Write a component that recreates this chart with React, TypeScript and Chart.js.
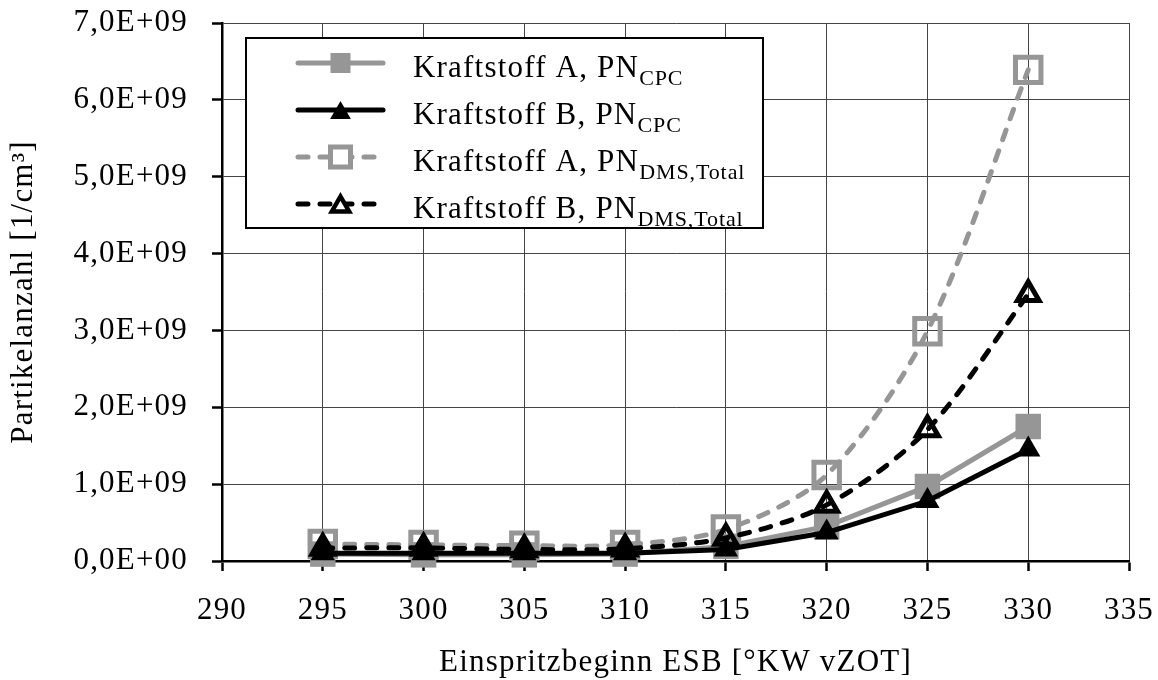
import React, { useEffect, useRef } from 'react';
import { Chart, registerables } from 'chart.js';

Chart.register(...registerables);

// ---- data ----
const injectionStart = [295, 300, 305, 310, 315, 320, 325, 330];
const fuelA_CPC = [0.09e9, 0.08e9, 0.08e9, 0.09e9, 0.19e9, 0.45e9, 0.97e9, 1.75e9];
const fuelB_CPC = [0.10e9, 0.10e9, 0.10e9, 0.10e9, 0.15e9, 0.37e9, 0.78e9, 1.45e9];
const fuelA_DMS = [0.22e9, 0.21e9, 0.20e9, 0.21e9, 0.41e9, 1.12e9, 2.99e9, 6.39e9];
const fuelB_DMS = [0.17e9, 0.17e9, 0.15e9, 0.16e9, 0.30e9, 0.73e9, 1.71e9, 3.47e9];

const seriesMain = ['Kraftstoff A, PN', 'Kraftstoff B, PN', 'Kraftstoff A, PN', 'Kraftstoff B, PN'];
const seriesSub = ['CPC', 'CPC', 'DMS,Total', 'DMS,Total'];

const xTitle = 'Einspritzbeginn ESB [°KW vZOT]';
const yTitle = 'Partikelanzahl [1/cm³]';

const xMin = 290, xMax = 335, xStep = 5;
const yMin = 0, yMax = 7e9, yStep = 1e9;

const GRAY = '#969696';
const BLACK = '#000000';
const FONT = '"Liberation Serif", "Times New Roman", serif';
const SPACING = '1.2px';

const toPoints = (ys: number[]) => injectionStart.map((x, i) => ({ x, y: ys[i] }));

const fmtY = (v: number) => {
  if (v === 0) return '0,0E+00';
  const e = Math.floor(Math.log10(v) + 1e-9);
  const m = v / Math.pow(10, e);
  return m.toFixed(1).replace('.', ',') + 'E+' + String(e).padStart(2, '0');
};

type LegendStyle = { color: string; dash: boolean; marker: 'square' | 'triangle'; filled: boolean };
const legendStyles: LegendStyle[] = [
  { color: GRAY, dash: false, marker: 'square', filled: true },
  { color: BLACK, dash: false, marker: 'triangle', filled: true },
  { color: GRAY, dash: true, marker: 'square', filled: false },
  { color: BLACK, dash: true, marker: 'triangle', filled: false },
];

const spacingPlugin = {
  id: 'letterSpacing',
  beforeDraw(chart: any) {
    (chart.ctx as any).letterSpacing = SPACING;
  },
};

const legendPlugin = {
  id: 'customLegend',
  afterDatasetsDraw(chart: any) {
    const ctx: CanvasRenderingContext2D = chart.ctx;
    const area = chart.chartArea;
    const bx = area.left + 24;
    const by = area.top + 15;
    const bw = 517;
    const bh = 190;
    ctx.save();
    ctx.fillStyle = '#ffffff';
    ctx.fillRect(bx, by, bw, bh);
    ctx.strokeStyle = BLACK;
    ctx.lineWidth = 2;
    ctx.strokeRect(bx, by, bw, bh);

    const x0 = bx + 52;
    const x1 = bx + 137;
    const mx = (x0 + x1) / 2;
    const tx = bx + 167;
    legendStyles.forEach((st, i) => {
      const cy = by + 25 + i * 47;
      ctx.beginPath();
      ctx.setLineDash(st.dash ? [10, 12] : []);
      ctx.lineCap = 'round';
      ctx.lineWidth = 5;
      ctx.strokeStyle = st.color;
      ctx.moveTo(x0, cy);
      ctx.lineTo(x1, cy);
      ctx.stroke();
      ctx.setLineDash([]);

      ctx.lineJoin = 'miter';
      if (st.marker === 'square') {
        if (st.filled) {
          ctx.fillStyle = st.color;
          ctx.fillRect(mx - 10, cy - 10, 20, 20);
        } else {
          ctx.fillStyle = '#ffffff';
          ctx.fillRect(mx - 10, cy - 10, 20, 20);
          ctx.lineWidth = 5;
          ctx.strokeStyle = st.color;
          ctx.strokeRect(mx - 10, cy - 10, 20, 20);
        }
      } else {
        const r = st.filled ? 12 : 10;
        const cyy = cy + r * 0.25;
        ctx.beginPath();
        ctx.moveTo(mx, cyy - r);
        ctx.lineTo(mx + r * 0.866, cyy + r / 2);
        ctx.lineTo(mx - r * 0.866, cyy + r / 2);
        ctx.closePath();
        if (st.filled) {
          ctx.fillStyle = st.color;
          ctx.fill();
        } else {
          ctx.fillStyle = '#ffffff';
          ctx.fill();
          ctx.lineWidth = 4.5;
          ctx.strokeStyle = st.color;
          ctx.stroke();
        }
      }

      (ctx as any).letterSpacing = SPACING;
      ctx.fillStyle = BLACK;
      ctx.textAlign = 'left';
      ctx.textBaseline = 'alphabetic';
      ctx.font = `31px ${FONT}`;
      const base = cy + 13.5;
      ctx.fillText(seriesMain[i], tx, base);
      const w = ctx.measureText(seriesMain[i]).width;
      (ctx as any).letterSpacing = '0.9px';
      ctx.font = `22px ${FONT}`;
      ctx.fillText(seriesSub[i], tx + w, base + 8);
    });
    ctx.restore();
  },
};

export default function App() {
  const canvasRef = useRef<HTMLCanvasElement | null>(null);

  useEffect(() => {
    const canvas = canvasRef.current;
    if (!canvas) return;
    const chart = new Chart(canvas, {
      type: 'line',
      data: {
        datasets: [
          {
            label: seriesMain[0] + seriesSub[0],
            data: toPoints(fuelA_CPC),
            borderColor: GRAY,
            backgroundColor: GRAY,
            borderWidth: 5,
            pointStyle: 'rect',
            pointRadius: 18,
            pointBorderWidth: 0,
            pointBackgroundColor: GRAY,
            tension: 0,
            order: 2,
            clip: false,
          } as any,
          {
            label: seriesMain[1] + seriesSub[1],
            data: toPoints(fuelB_CPC),
            borderColor: BLACK,
            backgroundColor: BLACK,
            borderWidth: 5,
            pointStyle: 'triangle',
            pointRadius: 14,
            pointBorderWidth: 0,
            pointBackgroundColor: BLACK,
            tension: 0,
            order: 0,
            clip: false,
          } as any,
          {
            label: seriesMain[2] + seriesSub[2],
            data: toPoints(fuelA_DMS),
            borderColor: GRAY,
            backgroundColor: 'rgba(0,0,0,0)',
            borderWidth: 5,
            borderDash: [10, 12],
            borderCapStyle: 'round',
            pointStyle: 'rect',
            pointRadius: 18,
            pointBorderWidth: 5,
            pointBorderColor: GRAY,
            pointBackgroundColor: 'rgba(0,0,0,0)',
            tension: 0.3,
            order: 3,
            clip: false,
          } as any,
          {
            label: seriesMain[3] + seriesSub[3],
            data: toPoints(fuelB_DMS),
            borderColor: BLACK,
            backgroundColor: 'rgba(0,0,0,0)',
            borderWidth: 5,
            borderDash: [10, 12],
            borderCapStyle: 'round',
            pointStyle: 'triangle',
            pointRadius: 12.5,
            pointBorderWidth: 5,
            pointBorderColor: BLACK,
            pointBackgroundColor: 'rgba(0,0,0,0)',
            tension: 0.3,
            order: 1,
            clip: false,
          } as any,
        ],
      },
      options: {
        animation: false,
        responsive: false,
        devicePixelRatio: 1,
        events: [],
        layout: { padding: { top: 23, right: 29, bottom: 0, left: 0 } },
        plugins: {
          legend: { display: false },
          tooltip: { enabled: false },
        },
        scales: {
          x: {
            type: 'linear',
            min: xMin,
            max: xMax,
            afterFit: (s: any) => {
              s.height = 119;
              s.paddingLeft = 0;
              s.paddingRight = 0;
              s.paddingTop = 0;
              s.paddingBottom = 0;
            },
            ticks: {
              stepSize: xStep,
              color: BLACK,
              padding: 21,
              maxRotation: 0,
              font: { family: FONT, size: 31, lineHeight: 1.2 },
            },
            grid: {
              color: '#444444',
              lineWidth: 1,
              tickLength: 10,
              tickWidth: 2.5,
              tickColor: BLACK,
            },
            border: { color: BLACK, width: 2.5 },
            title: {
              display: true,
              text: xTitle,
              color: BLACK,
              padding: 0,
              font: { family: FONT, size: 31, lineHeight: 1.1 },
            },
          },
          y: {
            type: 'linear',
            min: yMin,
            max: yMax,
            afterFit: (s: any) => {
              s.width = 222;
              s.paddingLeft = 0;
              s.paddingRight = 0;
              s.paddingTop = 0;
              s.paddingBottom = 0;
            },
            ticks: {
              stepSize: yStep,
              color: BLACK,
              padding: 24,
              font: { family: FONT, size: 31, lineHeight: 1.2 },
              callback: (v: any) => fmtY(Number(v)),
            },
            grid: {
              color: '#444444',
              lineWidth: 1,
              tickLength: 10,
              tickWidth: 2.5,
              tickColor: BLACK,
            },
            border: { color: BLACK, width: 2.5 },
            title: {
              display: true,
              text: yTitle,
              color: BLACK,
              padding: { top: 7, bottom: 0 },
              font: { family: FONT, size: 31, lineHeight: 1.1 },
            },
          },
        },
      } as any,
      plugins: [spacingPlugin, legendPlugin],
    });
    return () => chart.destroy();
  }, []);

  return (
    <div style={{ position: 'fixed', left: 0, top: 0, width: 1158, height: 680, background: '#ffffff' }}>
      <canvas ref={canvasRef} width={1158} height={680} style={{ display: 'block', width: 1158, height: 680 }} />
    </div>
  );
}
